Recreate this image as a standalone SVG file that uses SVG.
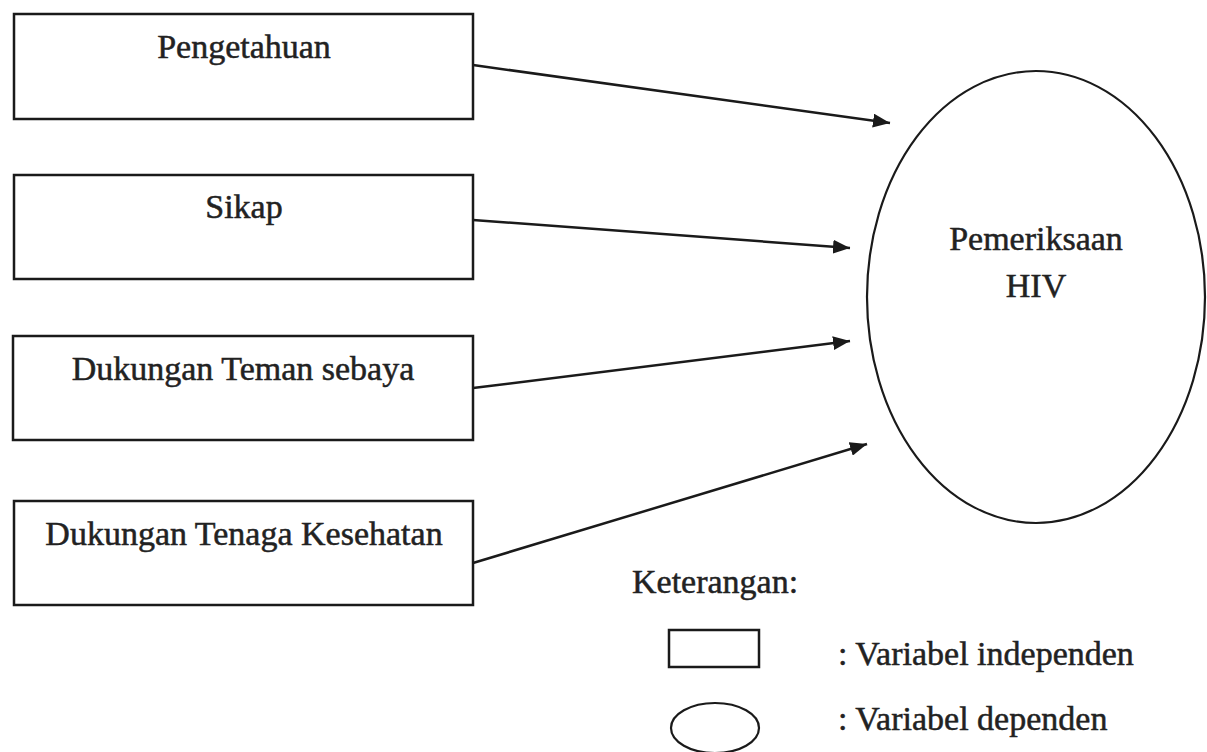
<svg xmlns="http://www.w3.org/2000/svg" width="1207" height="752" viewBox="0 0 1207 752">
<style>
.box{fill:#fff;stroke:#1a1a1a;stroke-width:2.5}
.ell{fill:#fff;stroke:#1a1a1a;stroke-width:2.2}
.t{font-family:"Liberation Serif","Times New Roman",serif;font-size:34px;fill:#222;stroke:#222;stroke-width:0.5}
.c{text-anchor:middle}
.conn{stroke:#1a1a1a;stroke-width:2.5;fill:none;marker-end:url(#ah)}
</style>
<defs>
<marker id="ah" markerUnits="userSpaceOnUse" markerWidth="18" markerHeight="14" refX="17" refY="7" orient="auto">
<path d="M0,0 L17,7 L0,14 Z" fill="#1a1a1a"/>
</marker>
</defs>
<rect width="1207" height="752" fill="#fff"/>
<g id="node-pengetahuan">
<rect class="box" x="14" y="14" width="459" height="105"/>
<text class="t c" x="244" y="58">Pengetahuan</text>
</g>
<g id="node-sikap">
<rect class="box" x="14" y="175" width="459" height="104"/>
<text class="t c" x="244" y="218">Sikap</text>
</g>
<g id="node-teman">
<rect class="box" x="13" y="336" width="460" height="104"/>
<text class="t c" x="243" y="380">Dukungan Teman sebaya</text>
</g>
<g id="node-tenaga">
<rect class="box" x="14" y="501" width="459" height="104"/>
<text class="t c" x="244" y="545">Dukungan Tenaga Kesehatan</text>
</g>
<g id="node-hiv">
<ellipse class="ell" cx="1036" cy="297" rx="169" ry="226"/>
<text class="t c" x="1036" y="250">Pemeriksaan</text>
<text class="t c" x="1036" y="297">HIV</text>
</g>
<g id="connectors">
<line class="conn" x1="473" y1="65" x2="890" y2="123"/>
<line class="conn" x1="473" y1="220" x2="850" y2="248"/>
<line class="conn" x1="473" y1="388" x2="850" y2="341"/>
<line class="conn" x1="473" y1="563" x2="867" y2="444"/>
</g>
<g id="legend">
<text class="t" x="632" y="593">Keterangan:</text>
<rect class="box" x="669" y="630" width="90" height="37"/>
<text class="t" x="838" y="665">: Variabel independen</text>
<ellipse class="ell" cx="715" cy="728" rx="44" ry="25"/>
<text class="t" x="838" y="730">: Variabel dependen</text>
</g>
</svg>
